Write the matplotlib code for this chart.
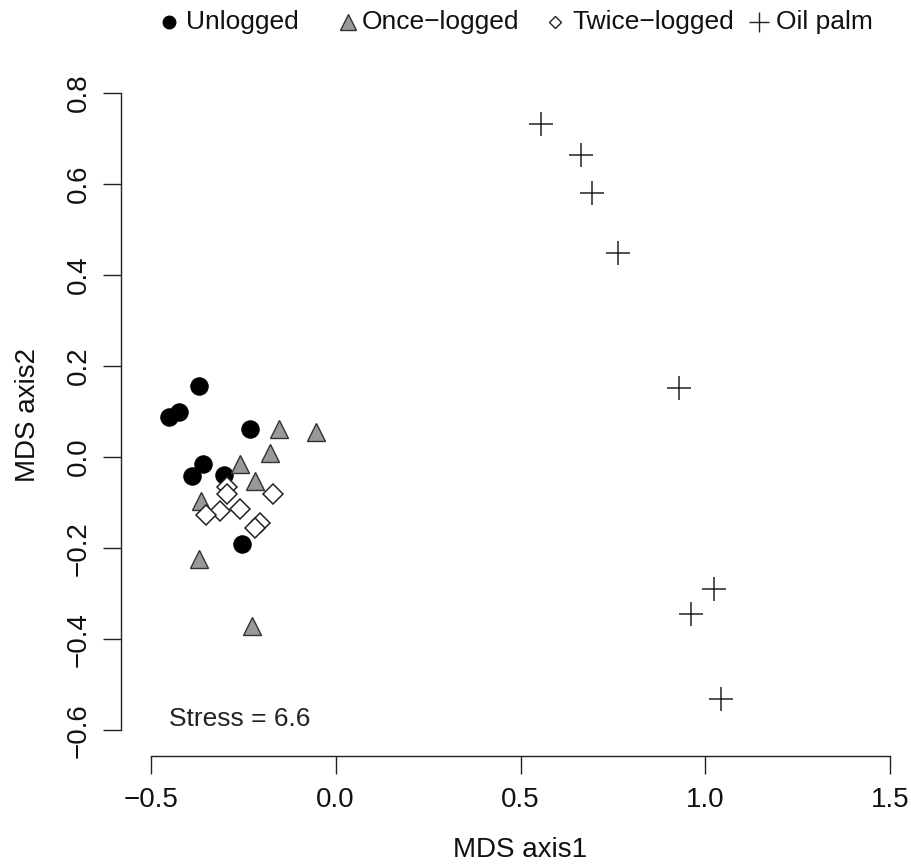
import matplotlib
matplotlib.use("Agg")
import matplotlib.pyplot as plt
from matplotlib.lines import Line2D

plt.rcParams['font.family'] = ['Liberation Sans', 'DejaVu Sans']
plt.rcParams['axes.unicode_minus'] = True

# NMDS site scores per land-use class
unlogged_x = [-0.368, -0.451, -0.424, -0.232, -0.359, -0.387, -0.302, -0.254]
unlogged_y = [0.156, 0.087, 0.098, 0.062, -0.015, -0.042, -0.040, -0.190]

once_x = [-0.153, -0.052, -0.178, -0.257, -0.219, -0.365, -0.368, -0.227]
once_y = [0.061, 0.055, 0.009, -0.016, -0.053, -0.097, -0.223, -0.371]

twice_x = [-0.293, -0.293, -0.168, -0.257, -0.313, -0.350, -0.203, -0.219]
twice_y = [-0.066, -0.080, -0.082, -0.115, -0.119, -0.128, -0.144, -0.155]

palm_x = [0.556, 0.664, 0.694, 0.764, 0.929, 1.022, 0.962, 1.041]
palm_y = [0.731, 0.662, 0.580, 0.448, 0.152, -0.289, -0.344, -0.531]

x_ticks = [-0.5, 0.0, 0.5, 1.0, 1.5]
y_ticks = [-0.6, -0.4, -0.2, 0.0, 0.2, 0.4, 0.6, 0.8]
stress_value = 6.6

W, H = 911, 868
fig = plt.figure(figsize=(W / 100, H / 100), dpi=100)
ax = fig.add_axes([121 / W, 112 / H, (920 - 121) / W, (756 - 67) / H])

ax.plot(unlogged_x, unlogged_y, 'o', ms=12.5, mfc='black', mec='black', mew=0.8, clip_on=False)
ax.plot(once_x, once_y, '^', ms=13, mfc='#999999', mec='#333333', mew=1.0, clip_on=False)
ax.plot(twice_x, twice_y, 'D', ms=10.2, mfc='white', mec='#222222', mew=1.1, clip_on=False)
ax.plot(palm_x, palm_y, '+', ms=17, mec='#222222', mew=1.1, clip_on=False)

ax.text(-0.451, -0.574, f"Stress = {stress_value}", fontsize=19, ha='left', va='center',
        color='#222222')

ax.set_xlim(-0.58, 1.58)
ax.set_ylim(-0.656, 0.856)
ax.set_xticks(x_ticks)
ax.set_yticks(y_ticks)
ax.set_xticklabels([f"{v:.1f}".replace('-', '\u2212') for v in x_ticks])
ax.set_yticklabels([f"{v:.1f}".replace('-', '\u2212') for v in y_ticks])

for side in ('top', 'right'):
    ax.spines[side].set_visible(False)
ax.spines['bottom'].set_bounds(-0.5, 1.5)
ax.spines['left'].set_bounds(-0.6, 0.8)
for side in ('bottom', 'left'):
    ax.spines[side].set_linewidth(1.0)
    ax.spines[side].set_color('#222222')

ax.tick_params(axis='both', direction='out', length=13, width=1.0, color='#222222',
               labelsize=20, labelcolor='#111111')
ax.tick_params(axis='x', pad=9)
ax.tick_params(axis='y', pad=8, labelrotation=90)
for lab in ax.get_yticklabels():
    lab.set_va('center')

fig.text(520 / W, 1 - 850 / H, "MDS axis1", fontsize=20, ha='center', va='center', color='#111111')
fig.text(28 / W, 1 - 415 / H, "MDS axis2", fontsize=20, ha='center', va='center',
         rotation=90, color='#111111')

# Legend row across the top
leg_y = 1 - 22 / H
base_y = 1 - 28.5 / H
legend_items = [
    (169, 'o', 9, 'black', 'black', 186, "Unlogged"),
    (348, '^', 11, '#999999', '#333333', 362, "Once\u2212logged"),
    (555, 'D', 6.5, 'white', '#222222', 572, "Twice\u2212logged"),
    (759, '+', 14, 'none', '#222222', 776, "Oil palm"),
]
for mx, mk, ms, fc, ec, tx, label in legend_items:
    fig.add_artist(Line2D([mx / W], [leg_y], marker=mk, ms=ms, mfc=fc, mec=ec, mew=1.0,
                          linestyle='none', transform=fig.transFigure))
    fig.text(tx / W, base_y, label, fontsize=19, ha='left', va='baseline', color='#111111')

fig.savefig("out.png", dpi=100, facecolor='white')
